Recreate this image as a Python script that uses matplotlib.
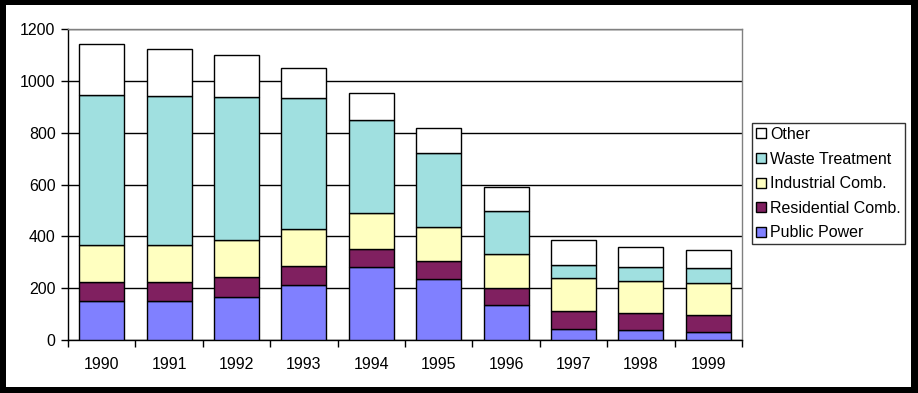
import numpy as np
import matplotlib.pyplot as plt
from matplotlib.patches import Rectangle

plt.rcParams['font.family'] = ['Liberation Sans', 'DejaVu Sans']

anos = ['1990', '1991', '1992', '1993', '1994', '1995', '1996', '1997', '1998', '1999']
public_power = [149, 149, 168, 211, 282, 234, 135, 41, 37, 31]
residential = [75, 75, 75, 73, 69, 70, 66, 70, 67, 65]
industrial = [141, 141, 143, 144, 139, 131, 133, 127, 122, 126]
waste = [583, 579, 554, 508, 358, 289, 164, 50, 56, 56]
other = [194, 179, 160, 113, 105, 94, 91, 98, 79, 69]

series = [public_power, residential, industrial, waste, other]
nomes = ['Public Power', 'Residential Comb.', 'Industrial Comb.', 'Waste Treatment', 'Other']
cores = ['#8080FF', '#802060', '#FFFFC0', '#A0E0E0', '#FFFFFF']

fig = plt.figure(figsize=(9.18, 3.93), dpi=100, facecolor='black')
# moldura branca dentro da borda preta
fig.patches.append(Rectangle((6/918, 6/393), 905/918, 382/393, transform=fig.transFigure,
                             facecolor='white', edgecolor='none', zorder=-5))

ax = fig.add_axes([68/918, 53/393, 674/918, 310.7/393])
ax.set_facecolor('white')

x = np.arange(len(anos))
base = np.zeros(len(anos))
for vals, nome, cor in zip(series, nomes, cores):
    ax.bar(x, vals, 0.67, bottom=base, color=cor, edgecolor='black', linewidth=1, label=nome, zorder=3)
    base += np.array(vals)

ax.set_xlim(-0.5, len(anos) - 0.5)
ax.set_ylim(0, 1200)
ax.set_yticks(range(0, 1201, 200))
ax.yaxis.grid(True, color='black', linewidth=1, zorder=0)
ax.set_axisbelow(True)
ax.set_xticks(x)
ax.set_xticklabels(anos, fontsize=11.5)
ax.tick_params(axis='x', which='major', length=0, pad=12)
ax.set_xticks(np.arange(-0.5, len(anos)), minor=True)
ax.tick_params(axis='x', which='minor', length=5, width=1, direction='out', color='black')
ax.tick_params(axis='y', length=5, width=1, labelsize=11.5, pad=4)
for s in ['left', 'bottom']:
    ax.spines[s].set_color('black')
    ax.spines[s].set_linewidth(1)
for s in ['top', 'right']:
    ax.spines[s].set_color('#808080')
    ax.spines[s].set_linewidth(1)

hs = [plt.Line2D([], [], marker='s', linestyle='none', markersize=7.5, markerfacecolor=c,
                 markeredgecolor='black', markeredgewidth=1) for c in cores]
leg = fig.legend(hs[::-1], nomes[::-1], loc='upper left', bbox_to_anchor=(752/918, 270/393),
                 fontsize=11.5, frameon=True, fancybox=False, edgecolor='black',
                 handlelength=0.6, handletextpad=0.3, borderpad=0.25, labelspacing=0.6,
                 borderaxespad=0)
leg.get_frame().set_linewidth(1)

fig.savefig('out.png', dpi=100, facecolor='black')
